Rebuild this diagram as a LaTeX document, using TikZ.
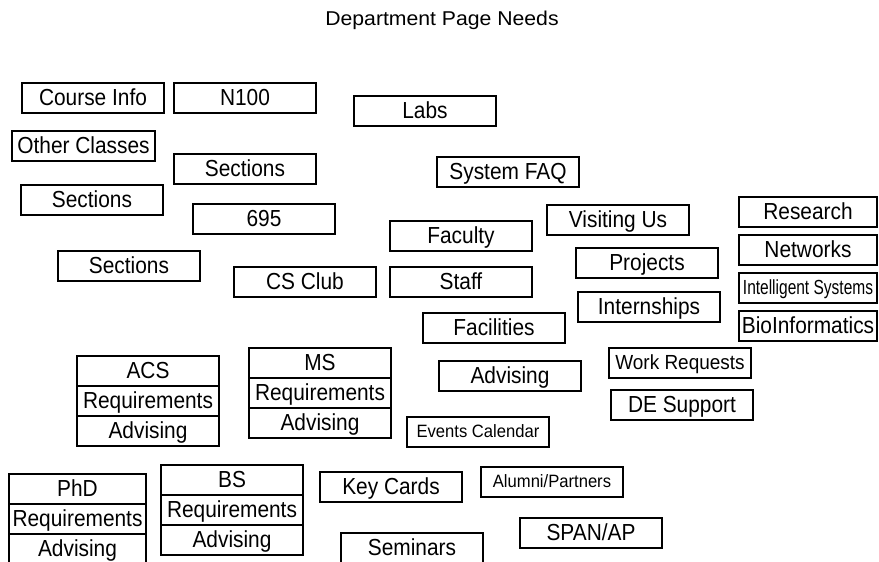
\documentclass[tikz,border=0pt]{standalone}
\usepackage{fontspec}
\setmainfont{Liberation Sans}
\newfontfamily\condsans{Liberation Sans}[FakeStretch=0.9]
\newfontfamily\smallsans{Liberation Sans}[FakeStretch=0.93]
\newfontfamily\narrowsans{Liberation Sans}[FakeStretch=0.76]
\newfontfamily\widesans{Liberation Sans}[FakeStretch=1.06]
\usetikzlibrary{positioning}

\tikzset{
  needbox/.style={draw, line width=0.9pt, outer sep=0pt, inner sep=0pt,
    anchor=north west, minimum width=106.5pt, minimum height=22.5pt,
    font=\condsans\fontsize{17.4}{20}\selectfont, text height=12pt, text depth=0.5pt},
  smallneed/.style={needbox, font=\smallsans\fontsize{13.4}{16}\selectfont,
    text height=9.3pt, text depth=0.4pt},
  midneed/.style={needbox, font=\smallsans\fontsize{15.3}{18}\selectfont,
    text height=10.5pt, text depth=0.5pt},
  narrowneed/.style={needbox, font=\narrowsans\fontsize{15.3}{18}\selectfont,
    text height=10.5pt, text depth=0.5pt}
}

\begin{document}
\begin{tikzpicture}[x=0.75pt,y=0.75pt,yscale=-1,xscale=1]
\useasboundingbox (0,0) rectangle (879,561);

% Title
\node[anchor=base, font=\widesans\fontsize{15}{18}\selectfont] (title) at (442,25) {Department Page Needs};

% Course side
\node[needbox] (courseinfo) at (22,83) {Course Info};
\node[needbox] (nhundred) at (174,83) {N100};
\node[needbox, minimum width=107.25pt] (otherclasses) at (12,131) {Other Classes};
\node[needbox] (sections) at (174,154) {Sections};
\node[needbox] (sectionsb) at (21,185) {Sections};
\node[needbox] (sixninefive) at (193,204) {695};
\node[needbox] (sectionsc) at (58,251) {Sections};
\node[needbox] (csclub) at (234,267) {CS Club};

% Labs, people, facilities
\node[needbox] (labs) at (354,96) {Labs};
\node[needbox] (sysfaq) at (437,157) {System FAQ};
\node[needbox] (faculty) at (390,221) {Faculty};
\node[needbox] (staff) at (390,267) {Staff};
\node[needbox] (facilities) at (423,313) {Facilities};
\node[needbox] (advising) at (439,361) {Advising};
\node[smallneed] (events) at (407,417) {Events Calendar};
\node[needbox] (keycards) at (320,472) {Key Cards};
\node[smallneed] (alumni) at (481,467) {Alumni/Partners};
\node[needbox] (span) at (520,518) {SPAN/AP};
\node[needbox] (seminars) at (341,533) {Seminars};

% Visiting, projects, support
\node[needbox] (visiting) at (547,205) {Visiting Us};
\node[needbox] (projects) at (576,248) {Projects};
\node[needbox] (internships) at (578,292) {Internships};
\node[midneed] (workreq) at (609,348) {Work Requests};
\node[needbox] (desupport) at (611,390) {DE Support};

% Research areas
\node[needbox, minimum width=103.5pt] (research) at (739,197) {Research};
\node[needbox, minimum width=103.5pt] (networks) at (739,235) {Networks};
\node[narrowneed, minimum width=103.5pt] (intelligent) at (739,273) {Intelligent Systems};
\node[needbox, minimum width=103.5pt] (bioinf) at (739,311) {BioInformatics};

% Degree stacks
\node[needbox] (ms) at (249,348) {MS};
\node[needbox, below=0pt of ms] (msreq) {Requirements};
\node[needbox, below=0pt of msreq] (msadv) {Advising};

\node[needbox] (acs) at (77,356) {ACS};
\node[needbox, below=0pt of acs] (acsreq) {Requirements};
\node[needbox, below=0pt of acsreq] (acsadv) {Advising};

\node[needbox] (bs) at (161,465) {BS};
\node[needbox, below=0pt of bs] (bsreq) {Requirements};
\node[needbox, below=0pt of bsreq] (bsadv) {Advising};

\node[needbox, minimum width=102.75pt] (phd) at (9,474) {PhD};
\node[needbox, minimum width=102.75pt, below=0pt of phd] (phdreq) {Requirements};
\node[needbox, minimum width=102.75pt, below=0pt of phdreq] (phdadv) {Advising};

\end{tikzpicture}
\end{document}
